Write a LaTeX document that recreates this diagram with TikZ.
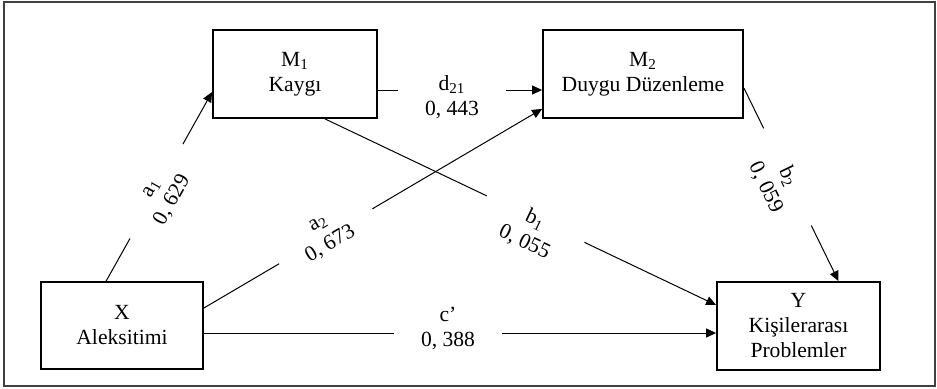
\documentclass[tikz,border=0pt]{standalone}
\usepackage{fontspec}
\setmainfont{Liberation Serif}
\usetikzlibrary{arrows.meta,calc}
\begin{document}
\begin{tikzpicture}[x=0.5pt,y=-0.5pt,
  box/.style={draw, line width=0.9pt, rectangle, align=center, inner sep=0pt,
    font=\fontsize{10.8}{12.5}\selectfont},
  conn/.style={line width=0.5pt, -{Triangle[length=5pt,width=4.5pt]}},
  lbl/.style={fill=white, align=center, inner sep=1pt, minimum width=54pt,
    font=\fontsize{10.8}{12.5}\selectfont}]
\useasboundingbox (0,0) rectangle (937,388);
\draw[line width=0.9pt, black!75] (4,2) rectangle (935,386);

\node[box, minimum width=82pt, minimum height=44pt] (M1) at (295,74) {M\textsubscript{1}\\Kaygı};
\node[box, minimum width=100pt, minimum height=44pt] (M2) at (643,74) {M\textsubscript{2}\\Duygu Düzenleme};
\node[box, minimum width=81pt, minimum height=43.5pt] (X) at (122,325.5) {X\\Aleksitimi};
\node[box, minimum width=81.5pt, minimum height=44pt] (Y) at (798.5,326) {Y\\Kişilerarası\\Problemler};

\draw[conn] ($(X.north west)+(66,0)$) -- ($(M1.west)+(0,18)$);
\draw[conn] ($(M1.east)+(0,16)$) -- ($(M2.west)+(0,16)$);
\draw[conn] ($(X.east)+(0,-17.5)$) -- ($(M2.south west)+(0,-10)$);
\draw[conn] ($(M1.south)+(30,0)$) -- ($(Y.west)+(0,-21)$);
\draw[conn] ($(M2.east)+(0,14)$) -- ($(Y.north)+(40,0)$);
\draw[conn] ($(X.east)+(0,7.5)$) -- ($(Y.west)+(0,7)$);

\node[lbl, rotate=60.7] (la1) at (163,195) {a\textsubscript{1}\\0, 629};
\node[lbl] (ld21) at (452,97) {d\textsubscript{21}\\0, 443};
\node[lbl, rotate=30.5] (la2) at (325,235) {a\textsubscript{2}\\0, 673};
\node[lbl, rotate=-25.5] (lb1) at (530,231) {b\textsubscript{1}\\0, 055};
\node[lbl, rotate=-64.4] (lb2) at (777,182) {b\textsubscript{2}\\0, 059};
\node[lbl] (lc) at (448,328) {c’\\0, 388};
\end{tikzpicture}
\end{document}
